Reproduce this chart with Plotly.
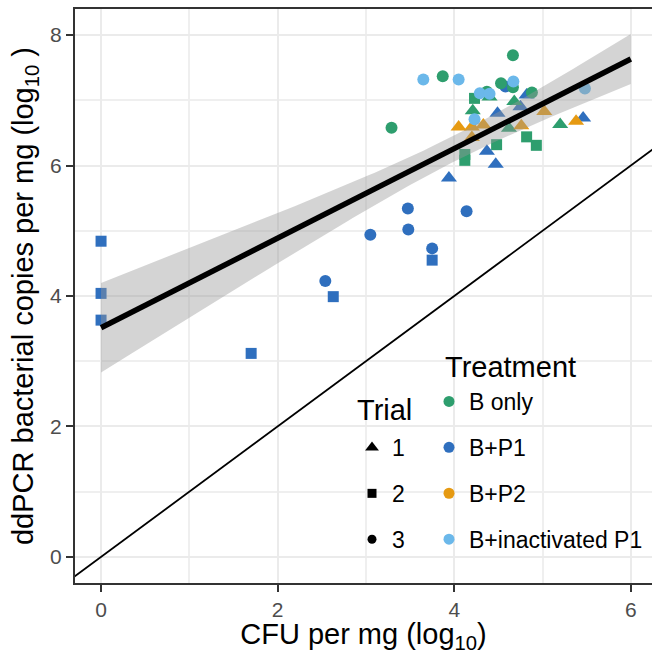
import numpy as np
import plotly.graph_objects as go

# log10 CFU per mg (x) and log10 ddPCR copies per mg (y), by treatment and trial
b_only_t1_x = [4.21, 4.40, 4.68, 4.62, 5.20]
b_only_t1_y = [6.84, 7.05, 6.98, 6.57, 6.63]
b_only_t2_x = [4.23, 4.48, 4.82, 4.93, 4.12, 4.12]
b_only_t2_y = [7.03, 6.32, 6.44, 6.31, 6.17, 6.08]
b_only_t3_x = [4.665, 3.87, 3.29, 4.53, 4.665, 4.88, 4.37]
b_only_t3_y = [7.69, 7.37, 6.58, 7.26, 7.20, 7.12, 7.13]

bp1_t1_x = [4.49, 4.75, 4.82, 5.46, 4.37, 4.47, 3.94]
bp1_t1_y = [6.80, 6.90, 7.08, 6.73, 6.22, 6.02, 5.81]
bp1_t2_x = [0.0, 0.0, 0.0, 2.63, 1.70, 3.75]
bp1_t2_y = [4.84, 4.04, 3.63, 3.99, 3.12, 4.55]
bp1_t3_x = [3.475, 3.48, 3.05, 3.75, 4.14, 2.54, 4.58]
bp1_t3_y = [5.34, 5.02, 4.94, 4.73, 5.30, 4.23, 7.21]

bp2_t1_x = [4.05, 4.20, 4.20, 4.33, 4.76, 5.02, 5.38]
bp2_t1_y = [6.59, 6.59, 6.43, 6.62, 6.61, 6.83, 6.68]

binact_t3_x = [3.65, 4.05, 4.29, 4.40, 4.67, 4.23, 5.48]
binact_t3_y = [7.32, 7.32, 7.11, 7.10, 7.29, 6.71, 7.18]

treatments = ["B only", "B+P1", "B+P2", "B+inactivated P1"]
trials = ["1", "2", "3"]
x_ticks = [0, 2, 4, 6]
y_ticks = [0, 2, 4, 6, 8]

colors = {
    "B only": "#2E9E6E",
    "B+P1": "#2F6FBE",
    "B+P2": "#E69A12",
    "B+inactivated P1": "#6BB8EA",
}
symbols = {"1": "triangle-up", "2": "square", "3": "circle"}
sizes = {"1": 14, "2": 11, "3": 12}

# drawing order of the groups
groups = [
    ("B+P1", "2", bp1_t2_x, bp1_t2_y),
    ("B+P1", "3", bp1_t3_x, bp1_t3_y),
    ("B+P1", "1", bp1_t1_x, bp1_t1_y),
    ("B only", "3", b_only_t3_x, b_only_t3_y),
    ("B only", "2", b_only_t2_x, b_only_t2_y),
    ("B only", "1", b_only_t1_x, b_only_t1_y),
    ("B+P2", "1", bp2_t1_x, bp2_t1_y),
    ("B+inactivated P1", "3", binact_t3_x, binact_t3_y),
]

FONT = "Liberation Sans, Arial, sans-serif"
fig = go.Figure()

for treat, trial, xs, ys in groups:
    fig.add_trace(go.Scatter(
        x=xs, y=ys, mode="markers", showlegend=False,
        marker=dict(color=colors[treat], symbol=symbols[trial],
                    size=sizes[trial], line=dict(width=0)),
        hoverinfo="x+y", name=f"{treat}, trial {trial}",
    ))

# ordinary least squares fit with 95% confidence band over all points
all_x = np.concatenate([np.asarray(g[2], float) for g in groups])
all_y = np.concatenate([np.asarray(g[3], float) for g in groups])
n = all_x.size
slope, intercept = np.polyfit(all_x, all_y, 1)
resid = all_y - (intercept + slope * all_x)
s = np.sqrt(np.sum(resid ** 2) / (n - 2))
xbar = all_x.mean()
sxx = np.sum((all_x - xbar) ** 2)
t_crit = 2.009  # t quantile 0.975, df ~ 50
grid = np.linspace(0, 6, 121)
fit = intercept + slope * grid
half = t_crit * s * np.sqrt(1.0 / n + (grid - xbar) ** 2 / sxx)
lo, hi = fit - half, fit + half

fig.add_trace(go.Scatter(
    x=np.concatenate([grid, grid[::-1]]),
    y=np.concatenate([hi, lo[::-1]]),
    fill="toself", fillcolor="rgba(153,153,153,0.42)",
    line=dict(width=0), mode="lines", showlegend=False, hoverinfo="skip",
))
fig.add_trace(go.Scatter(
    x=grid, y=fit, mode="lines", line=dict(color="black", width=5.5),
    showlegend=False, hoverinfo="skip",
))

# identity line y = x
fig.add_trace(go.Scatter(
    x=[-1, 9], y=[-1, 9], mode="lines", line=dict(color="black", width=1.8),
    showlegend=False, hoverinfo="skip",
))

# legend entries: colour by treatment, shape by trial
for i, treat in enumerate(treatments):
    fig.add_trace(go.Scatter(
        x=[None], y=[None], mode="markers", name=treat,
        marker=dict(color=colors[treat], symbol="circle", size=11),
        legend="legend", legendgroup=f"treat{i}",
    ))
for i, trial in enumerate(trials):
    fig.add_trace(go.Scatter(
        x=[None], y=[None], mode="markers", name=trial,
        marker=dict(color="black", symbol=symbols[trial],
                    size={"1": 12, "2": 9, "3": 9}[trial]),
        legend="legend2", legendgroup=f"trial{i}",
    ))

axis_common = dict(
    showline=True, linecolor="#333333", linewidth=2,
    ticks="outside", ticklen=7, tickwidth=2, tickcolor="#333333",
    tickfont=dict(family=FONT, size=21, color="#4D4D4D"),
    showgrid=True, gridcolor="#EBEBEB", gridwidth=2,
    zeroline=False,
    minor=dict(showgrid=True, gridcolor="#EFEFEF", gridwidth=1.5, dtick=1),
    title_font=dict(family=FONT, size=29, color="black"),
)

legend_common = dict(
    font=dict(family=FONT, size=23, color="black"),
    xanchor="left", yanchor="top",
    bgcolor="rgba(0,0,0,0)", tracegroupgap=13, itemwidth=30,
)

fig.update_layout(
    width=652, height=654,
    margin=dict(l=75, r=0, t=9, b=71),
    paper_bgcolor="white", plot_bgcolor="white",
    font=dict(family=FONT, color="black"),
    xaxis=dict(axis_common, range=[-0.295, 6.24], tickvals=x_ticks,
               mirror=True, title=dict(text="CFU per mg (log<sub>10</sub>)", standoff=7)),
    yaxis=dict(axis_common, range=[-0.4, 8.4], tickvals=y_ticks,
               title=dict(text="ddPCR bacterial copies per mg (log<sub>10</sub> )", standoff=8)),
    legend=dict(legend_common, x=(429 - 75) / 577, y=1 - (380 - 9) / 574),
    legend2=dict(legend_common, x=(352 - 75) / 577, y=1 - (426 - 9) / 574),
    annotations=[
        dict(text="Treatment", xref="paper", yref="paper",
             x=(443 - 75) / 577, y=1 - (367 - 9) / 574,
             xanchor="left", yanchor="middle", showarrow=False,
             font=dict(family=FONT, size=29, color="black")),
        dict(text="Trial", xref="paper", yref="paper",
             x=(355 - 75) / 577, y=1 - (410 - 9) / 574,
             xanchor="left", yanchor="middle", showarrow=False,
             font=dict(family=FONT, size=29, color="black")),
    ],
)

fig.write_html("out.html")
